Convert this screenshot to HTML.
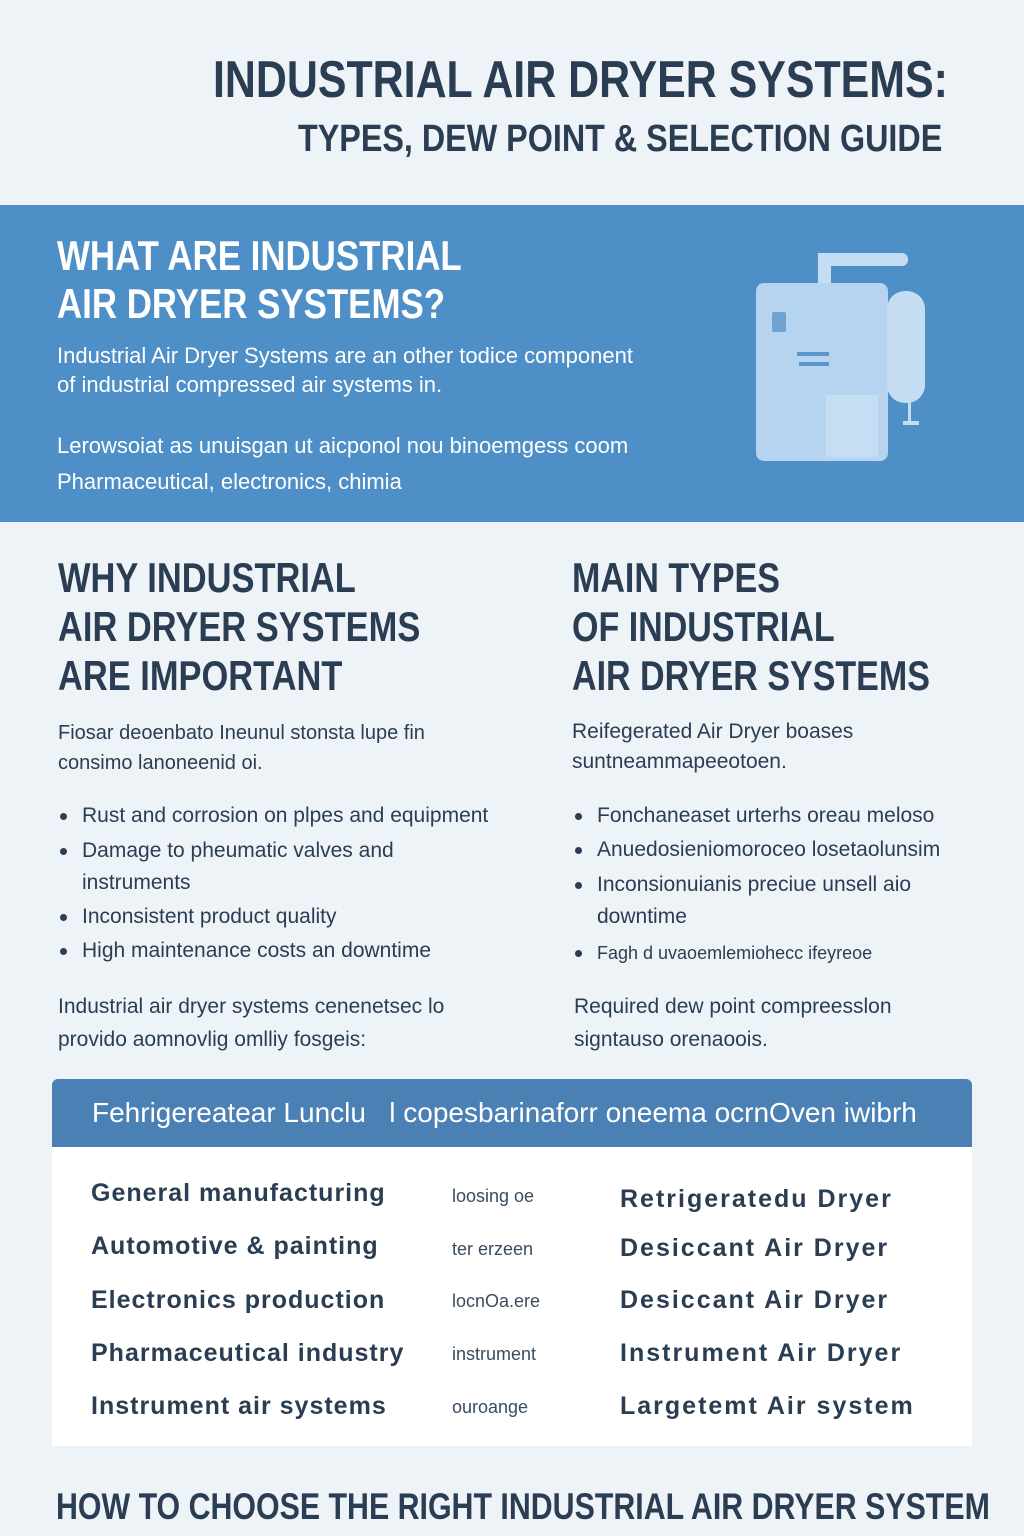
<!DOCTYPE html>
<html><head><meta charset="utf-8"><style>
*{margin:0;padding:0;box-sizing:border-box}
body{width:1024px;height:1536px;background:#eef3f8;position:relative;overflow:hidden;font-family:"Liberation Sans",sans-serif;color:#2b3d52}
.a{position:absolute;white-space:nowrap}
.h{font-weight:bold;transform-origin:0 0}
.w{color:#fff}
.t{font-size:20px;color:#2b3d52}
.li{font-size:21px;line-height:32px}
.li:before{content:"";position:absolute;left:-22px;top:13px;width:7px;height:7px;border-radius:50%;background:#2b3d52}
.r{font-size:25px;font-weight:bold;letter-spacing:1px;color:#2b3d52}
.m{font-size:18px;color:#3a4c60}
</style></head><body>
<div class="a h" style="left:213px;top:50px;font-size:52px;transform:scaleX(0.825)">INDUSTRIAL AIR DRYER SYSTEMS:</div>
<div class="a h" style="left:298px;top:118px;font-size:38px;transform:scaleX(0.85)">TYPES, DEW POINT &amp; SELECTION GUIDE</div>

<div class="a" style="left:0;top:205px;width:1024px;height:317px;background:#4d8fc6"></div>
<div class="a h w" style="left:57px;top:232px;font-size:42px;line-height:48px;transform:scaleX(0.83)">WHAT ARE INDUSTRIAL<br>AIR DRYER SYSTEMS?</div>
<div class="a w" style="left:57px;top:341px;font-size:22px;line-height:29px">Industrial Air Dryer Systems are an other todice component<br>of industrial compressed air systems in.</div>
<div class="a w" style="left:57px;top:428px;font-size:22px;line-height:36px">Lerowsoiat as unuisgan ut aicponol nou binoemgess coom<br>Pharmaceutical, electronics, chimia</div>
<svg class="a" style="left:740px;top:240px" width="200" height="240">
<rect x="78" y="13" width="90" height="13" rx="6" fill="#c4ddf3"/>
<rect x="78" y="13" width="13" height="35" fill="#c4ddf3"/>
<rect x="16" y="43" width="132" height="178" rx="8" fill="#b6d4f0"/>
<rect x="32" y="72" width="14" height="20" rx="2" fill="#6fa3d4"/>
<rect x="57" y="112" width="32" height="4" fill="#5a95cc"/>
<rect x="59" y="122" width="30" height="4" fill="#5a95cc"/>
<rect x="86" y="155" width="52" height="62" fill="#c6def4"/>
<rect x="147" y="51" width="38" height="112" rx="18" fill="#c4ddf3"/>
<rect x="168" y="160" width="3" height="22" fill="#c4ddf3"/>
<rect x="163" y="181" width="16" height="4" fill="#c4ddf3"/>
</svg>

<div class="a h" style="left:58px;top:553px;font-size:42px;line-height:49px;transform:scaleX(0.82)">WHY INDUSTRIAL<br>AIR DRYER SYSTEMS<br>ARE IMPORTANT</div>
<div class="a h" style="left:572px;top:553px;font-size:42px;line-height:49px;transform:scaleX(0.81)">MAIN TYPES<br>OF INDUSTRIAL<br>AIR DRYER SYSTEMS</div>

<div class="a t" style="left:58px;top:718px;line-height:30px;font-size:20px">Fiosar deoenbato Ineunul stonsta lupe fin<br>consimo lanoneenid oi.</div>
<div class="a li" style="left:82px;top:800px">Rust and corrosion on plpes and equipment</div>
<div class="a li" style="left:82px;top:835px">Damage to pheumatic valves and<br>instruments</div>
<div class="a li" style="left:82px;top:901px">Inconsistent product quality</div>
<div class="a li" style="left:82px;top:935px">High maintenance costs an downtime</div>
<div class="a t" style="left:58px;top:990px;line-height:33px;font-size:21px">Industrial air dryer systems cenenetsec lo<br>provido aomnovlig omlliy fosgeis:</div>

<div class="a t" style="left:572px;top:717px;line-height:30px;font-size:21px">Reifegerated Air Dryer boases<br>suntneammapeeotoen.</div>
<div class="a li" style="left:597px;top:800px">Fonchaneaset urterhs oreau meloso</div>
<div class="a li" style="left:597px;top:834px">Anuedosieniomoroceo losetaolunsim</div>
<div class="a li" style="left:597px;top:869px">Inconsionuianis preciue unsell aio<br>downtime</div>
<div class="a li" style="left:597px;top:937px;font-size:18px">Fagh d uvaoemlemiohecc ifeyreoe</div>
<div class="a t" style="left:574px;top:990px;line-height:33px;font-size:21px">Required dew point compreesslon<br>signtauso orenaoois.</div>

<div class="a" style="left:52px;top:1079px;width:920px;height:68px;background:#4a80b4;border-radius:6px 6px 0 0"></div>
<div class="a w" style="left:92px;top:1097px;font-size:28px">Fehrigereatear Lunclu &nbsp; l copesbarinaforr oneema ocrnOven iwibrh</div>
<div class="a" style="left:52px;top:1147px;width:920px;height:299px;background:#fff"></div>
<div class="a r" style="left:91px;top:1179px">General manufacturing</div>
<div class="a r" style="left:91px;top:1232px">Automotive &amp; painting</div>
<div class="a r" style="left:91px;top:1286px">Electronics production</div>
<div class="a r" style="left:91px;top:1339px">Pharmaceutical industry</div>
<div class="a r" style="left:91px;top:1392px">Instrument air systems</div>
<div class="a m" style="left:452px;top:1186px">loosing oe</div>
<div class="a m" style="left:452px;top:1239px">ter erzeen</div>
<div class="a m" style="left:452px;top:1291px">locnOa.ere</div>
<div class="a m" style="left:452px;top:1344px">instrument</div>
<div class="a m" style="left:452px;top:1397px">ouroange</div>
<div class="a r" style="left:620px;top:1185px;letter-spacing:2px">Retrigeratedu Dryer</div>
<div class="a r" style="left:620px;top:1234px;letter-spacing:2px">Desiccant Air Dryer</div>
<div class="a r" style="left:620px;top:1286px;letter-spacing:2px">Desiccant Air Dryer</div>
<div class="a r" style="left:620px;top:1339px;letter-spacing:2px">Instrument Air Dryer</div>
<div class="a r" style="left:620px;top:1392px;letter-spacing:2px">Largetemt Air system</div>

<div class="a h" style="left:56px;top:1486px;font-size:37px;transform:scaleX(0.82)">HOW TO CHOOSE THE RIGHT INDUSTRIAL AIR DRYER SYSTEM</div>
</body></html>
